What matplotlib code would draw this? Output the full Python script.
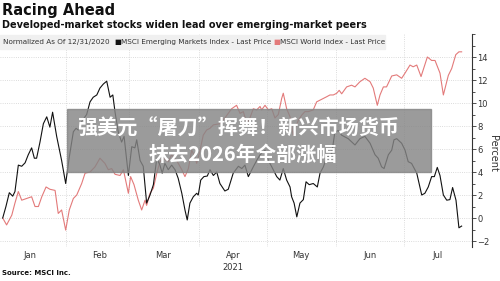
import numpy as np
import pandas as pd
import matplotlib
matplotlib.use("Agg")
import matplotlib.pyplot as plt
from matplotlib.ticker import MultipleLocator

# days since 1 Jan 2021, percent change vs 12/31/2020
em_day = [2.97, 4.4, 5.9, 7.4, 8.4, 9.9, 11.4, 12.9, 14.3, 15.8, 17.0, 18.0, 19.5, 21.0,
          22.5, 23.9, 25.1, 26.9, 29.1, 30.9, 32.5, 34.3, 35.5, 36.5, 38.0, 40.2, 41.7,
          43.1, 44.7, 46.1, 47.6, 49.1, 50.6, 51.8, 52.8, 54.2, 55.7, 56.8, 58.7, 60.2,
          61.6, 62.4, 63.9, 65.3, 66.8, 68.3, 69.8, 71.3, 72.7, 73.7, 74.9, 76.4, 77.9,
          79.4, 80.8, 82.4, 83.8, 84.8, 86.0, 87.5, 89.0, 89.7, 90.8, 92.2, 93.7, 94.9,
          96.4, 97.9, 99.3, 101.5, 103.0, 105.2, 107.5, 109.0, 110.4, 111.9, 114.1,
          115.6, 117.1, 119.3, 120.8, 122.3, 124.5, 125.9, 127.4, 128.9, 130.4, 131.1,
          132.2, 133.4, 134.8, 136.3, 137.5, 138.9, 140.7, 142.5, 143.7, 145.2, 146.7,
          148.9, 150.3, 151.8, 153.3, 156.2, 159.2, 161.4, 163.6, 165.9, 168.1, 169.5,
          171.0, 172.1, 174.0, 175.5, 176.5, 177.7, 179.9, 181.4, 182.8, 184.3, 186.6,
          188.8, 190.2, 191.7, 193.2, 194.4, 195.7, 196.9, 198.4, 199.9, 201.3, 202.5,
          204.0, 205.3, 206.5]
em_val = [0, 1.0, 2.2, 1.9, 2.3, 4.6, 4.5, 4.8, 5.5, 6.1, 5.2, 5.2, 6.6, 8.2,
          8.8, 7.9, 9.2, 7.1, 5.0, 3.0, 5.3, 7.5, 7.8, 7.65, 8.4, 9.0, 10.1,
          10.5, 10.7, 11.3, 11.65, 11.9, 10.5, 10.7, 9.2, 7.5, 6.6, 7.1, 3.7, 6.2,
          6.1, 6.8, 5.0, 4.5, 1.3, 2.0, 2.9, 5.2, 4.6, 3.9, 4.75, 4.2, 4.6,
          4.2, 3.45, 2.15, 0.7, -0.17, 1.3, 1.85, 2.15, 2.0, 3.3, 3.6, 3.65, 4.2,
          3.7, 4.0, 3.0, 2.35, 2.5, 3.9, 4.5, 4.3, 4.6, 3.6, 4.45,
          5.0, 5.5, 5.9, 5.0, 4.45, 3.6, 3.3, 4.3, 3.3, 2.7, 1.85,
          1.3, 0.1, 1.3, 1.6, 3.15, 2.9, 3.0, 2.7, 3.9, 4.45, 5.3,
          5.6, 7.5, 7.6, 7.2, 6.9, 6.35, 6.9, 7.1, 6.5, 5.5, 5.2,
          4.45, 4.3, 5.5, 5.9, 6.8, 6.9, 6.5, 5.9, 4.9, 4.75, 3.9,
          2.0, 2.15, 2.7, 3.6, 3.6, 4.4, 3.7, 2.0, 1.55, 1.6, 2.65,
          1.55, -0.85, -0.7]

world_day = [2.97, 4.7, 7.0, 8.4, 9.9, 11.4, 13.6, 15.8, 17.3, 18.8, 20.3, 22.2, 23.9,
             26.2, 27.6, 29.1, 30.9, 32.5, 34.3, 35.8, 38.0, 39.5, 41.7, 43.9, 46.1,
             48.3, 49.8, 51.3, 52.8, 55.0, 56.5, 58.7, 59.7, 61.2, 63.1, 64.6, 66.1,
             66.8, 68.3, 69.8, 71.3, 72.7, 74.2, 76.4, 77.9, 80.1, 82.4, 83.8, 85.3,
             86.8, 88.2, 89.0, 90.5, 91.9, 93.4, 94.9, 96.4, 99.3, 101.5, 104.5, 106.7,
             108.2, 109.7, 111.2, 112.6, 114.1, 115.6, 117.1, 117.8, 119.3, 120.8,
             122.3, 123.7, 125.2, 126.7, 127.4, 128.9, 130.4, 131.8, 132.6, 134.1,
             135.6, 137.0, 138.5, 140.7, 142.2, 143.7, 145.2, 146.7, 148.1, 149.6,
             151.1, 152.2, 153.3, 155.5, 157.7, 159.2, 161.4, 163.6, 165.9, 167.3,
             169.1, 170.3, 171.8, 173.2, 175.5, 177.7, 179.9, 181.4, 183.6, 185.0,
             186.6, 188.5, 191.3, 193.2, 194.7, 196.9, 198.4, 200.6, 202.1, 203.9,
             205.3, 206.5]
world_val = [0, -0.6, 0.25, 1.3, 2.3, 1.55, 1.7, 1.85, 1.0, 1.0, 1.85, 2.7, 2.5,
             2.4, 0.4, 0.7, -1.05, 0.7, 1.7, 2.0, 3.0, 3.9, 4.0, 4.45, 5.2,
             4.75, 4.2, 4.3, 3.8, 3.7, 4.2, 2.15, 3.6, 2.9, 1.55, 0.7, 1.55,
             1.1, 2.15, 2.6, 3.9, 4.9, 5.2, 4.9, 5.5, 5.0, 4.2, 3.6, 4.3,
             5.9, 5.3, 4.75, 5.9, 7.2, 7.65, 7.8, 8.1, 8.2, 8.7, 9.5, 9.8,
             9.1, 9.25, 8.2, 8.7, 9.5, 9.4, 9.7, 9.4, 9.8, 9.4,
             9.5, 8.7, 9.0, 10.4, 10.85, 9.5, 8.8, 7.2, 7.8, 8.5,
             8.95, 9.25, 9.25, 9.4, 10.1, 10.25, 10.4, 10.55, 10.7, 10.7,
             10.85, 11.1, 10.8, 11.4, 11.55, 11.4, 11.85, 12.15, 11.85, 11.3,
             9.8, 10.7, 11.4, 11.4, 12.35, 12.45, 12.15, 12.6, 13.3, 13.15,
             13.3, 12.3, 14.0, 13.7, 13.7, 12.6, 10.7, 12.4, 13.0, 14.2,
             14.45, 14.45]

months = ["Jan", "Feb", "Mar", "Apr", "May", "Jun", "Jul"]
yticks = [-2, 0, 2, 4, 6, 8, 10, 12, 14]

start = pd.Timestamp("2021-01-01")
em_dates = start + pd.to_timedelta(em_day, unit="D")
world_dates = start + pd.to_timedelta(world_day, unit="D")

fig = plt.figure(figsize=(5, 2.81), dpi=100)
ax = fig.add_axes([0.0, 0.121, 0.944, 0.758])

ax.plot(world_dates, world_val, color="#e37a7a", lw=0.8)
ax.plot(em_dates, em_val, color="#111111", lw=0.8)

ax.set_xlim(start + pd.Timedelta(days=1.77), start + pd.Timedelta(days=211.1))
ax.set_ylim(-2.52, 16.0)

# month gridlines on boundaries, labels at mid-month
bounds = pd.date_range("2021-02-01", "2021-07-01", freq="MS")
ax.set_xticks(bounds)
ax.set_xticklabels([])
ax.tick_params(axis="x", length=0)
mids = pd.date_range("2021-01-01", "2021-07-01", freq="MS") + pd.Timedelta(days=15)
for m, lab in zip(mids, months):
    ax.text(m, -0.018, lab, transform=ax.get_xaxis_transform(), ha="center",
            va="top", fontsize=6, color="#333333")
ax.text(mids[3], -0.075, "2021", transform=ax.get_xaxis_transform(), ha="center",
        va="top", fontsize=6, color="#333333")

ax.yaxis.tick_right()
ax.set_yticks(yticks)
ax.yaxis.set_minor_locator(MultipleLocator(1))
ax.tick_params(axis="y", labelsize=6, colors="#333333", length=3, width=0.6,
               pad=1)
ax.tick_params(axis="y", which="minor", length=2, width=0.6, colors="#333333")
ax.grid(True, color="#d0d0d0", linestyle=":", linewidth=0.6)

for s in ["left", "top", "bottom"]:
    ax.spines[s].set_visible(False)
ax.spines["right"].set_color("#333333")
ax.spines["right"].set_linewidth(0.8)

ax.text(1.044, 0.44, "Percent", transform=ax.transAxes, rotation=270,
        ha="center", va="center", fontsize=7, color="#333333")

# header
fig.text(0.004, 0.962, "Racing Ahead", fontsize=10.5, fontweight="bold",
         va="center", ha="left", color="#111111")
fig.text(0.004, 0.91, "Developed-market stocks widen lead over emerging-market peers",
         fontsize=7, fontweight="bold", va="center", ha="left", color="#111111")

# legend strip
fig.patches.append(plt.Rectangle((0, 1 - 49 / 281), 385 / 500, 14 / 281,
                                 transform=fig.transFigure, color="#f0f0f0",
                                 zorder=0))
ly = 1 - 42 / 281
fig.text(0.006, ly, "Normalized As Of 12/31/2020", fontsize=5.2, va="center",
         color="#333333")
fig.text(0.228, ly, "■", fontsize=5.2, va="center", color="#111111")
fig.text(0.242, ly, "MSCI Emerging Markets Index - Last Price", fontsize=5.2,
         va="center", color="#333333")
fig.text(0.546, ly, "■", fontsize=5.2, va="center", color="#e37a7a")
fig.text(0.560, ly, "MSCI World Index - Last Price", fontsize=5.2, va="center",
         color="#333333")

fig.text(0.004, 0.028, "Source: MSCI Inc.", fontsize=5, fontweight="bold",
         va="center", color="#111111")

# overlay banner
fig.patches.append(plt.Rectangle((67 / 500, 1 - 172 / 281), 364 / 500, 63 / 281,
                                 transform=fig.transFigure, color="#858585",
                                 alpha=0.82, zorder=5))
cjk = ["Noto Sans CJK SC", "DejaVu Sans"]
fig.text(0.477, 1 - 128 / 281, "强美元“屠刀”挥舞！新兴市场货币", family=cjk,
         fontsize=14.5, fontweight="bold", color="white", ha="center",
         va="center", zorder=6)
fig.text(0.486, 1 - 154 / 281, "抹去2026年全部涨幅", family=cjk, fontsize=14.5,
         fontweight="bold", color="white", ha="center", va="center", zorder=6)

fig.savefig("out.png", dpi=100)
